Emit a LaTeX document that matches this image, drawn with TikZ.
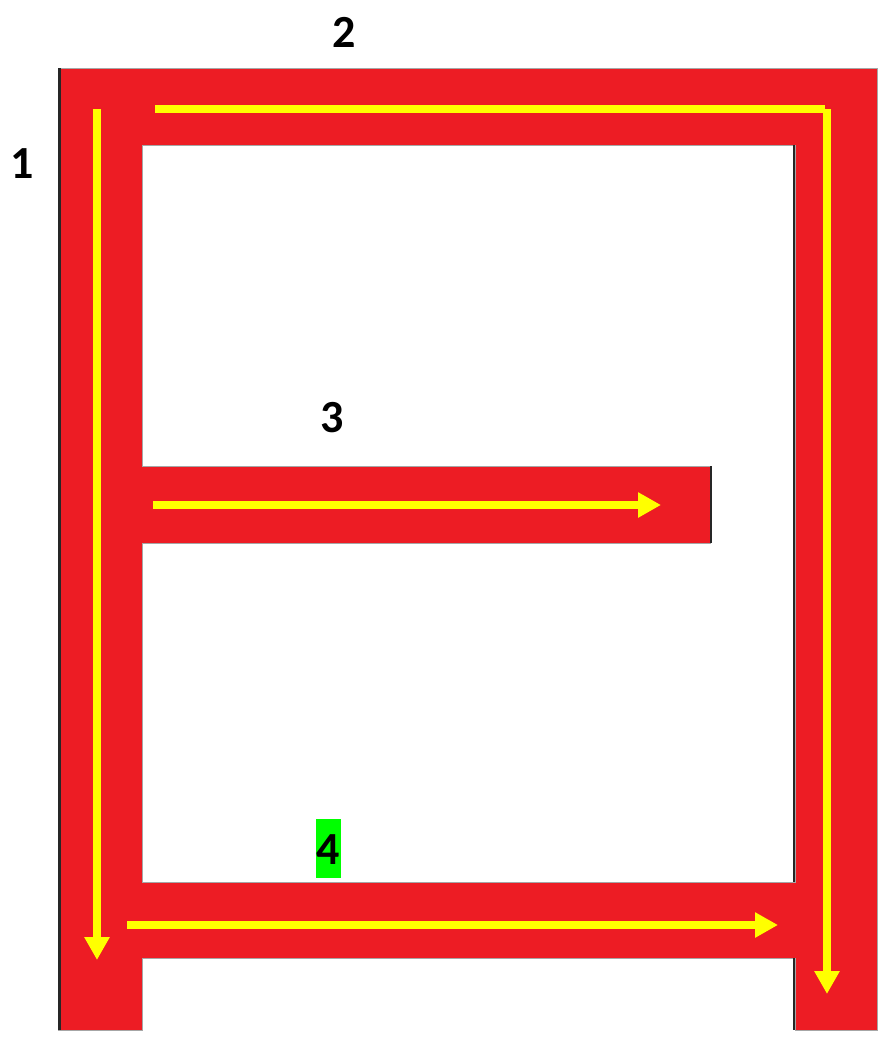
\documentclass[tikz,border=0pt]{standalone}
\usepackage{fontspec}
\setmainfont{Carlito}
\usetikzlibrary{arrows.meta}
\definecolor{barred}{HTML}{ED1C24}
\definecolor{flowyellow}{HTML}{FFFF00}
\definecolor{hlgreen}{HTML}{00FF00}
\tikzset{
  flow/.style={draw=flowyellow, line width=8pt},
  flowarrow/.style={flow, -{Triangle[width=24pt,length=23pt]}},
  lbl/.style={font=\fontsize{46}{56}\selectfont\bfseries, inner sep=0pt, text=black},
  shadowedge/.style={draw=black!85, line width=2.5pt},
}
\begin{document}
\begin{tikzpicture}[x=1pt,y=-1pt]
\useasboundingbox (0,0) rectangle (884,1037);
% red frame with inner hole
\fill[barred, even odd rule]
  (58,68) -- (877,68) -- (877,1030) -- (795,1030) -- (795,958) -- (142,958) -- (142,1030) -- (58,1030) -- cycle
  (142,145) -- (795,145) -- (795,882) -- (142,882) -- (142,543) -- (710,543) -- (710,466) -- (142,466) -- cycle;
\draw[black!35, line width=1pt]
  (58,68) -- (877,68) -- (877,1030) -- (795,1030) -- (795,958) -- (142,958) -- (142,1030) -- (58,1030) -- cycle
  (142,145) -- (795,145) -- (795,882) -- (142,882) -- (142,543) -- (710,543) -- (710,466) -- (142,466) -- cycle;
% dark edges
\draw[shadowedge] (59.5,68) -- (59.5,1030);
\draw[shadowedge] (794,145) -- (794,882);
\draw[shadowedge] (794,958) -- (794,1030);
\draw[shadowedge] (711,466) -- (711,543);
% yellow flow arrows
\coordinate (l1s) at (97,109);
\coordinate (l1e) at (97,960);
\coordinate (t2s) at (155,108.5);
\coordinate (t2c) at (825,108.5);
\coordinate (r2s) at (827,109);
\coordinate (r2e) at (827,994);
\coordinate (m3s) at (153,505);
\coordinate (m3e) at (661,505);
\coordinate (b4s) at (127,925);
\coordinate (b4e) at (778,925);
\draw[flowarrow] (l1s) -- (l1e);
\draw[flow] (t2s) -- (t2c);
\draw[flowarrow] (r2s) -- (r2e);
\draw[flowarrow] (m3s) -- (m3e);
\draw[flowarrow] (b4s) -- (b4e);
% labels
\node[lbl] (n1) at (22.5,164) {1};
\node[lbl] (n2) at (344,32) {2};
\node[lbl] (n3) at (332,418) {3};
\fill[hlgreen] (316,819) rectangle (341,878);
\node[lbl] (n4) at (328.5,849.5) {4};
\end{tikzpicture}
\end{document}
